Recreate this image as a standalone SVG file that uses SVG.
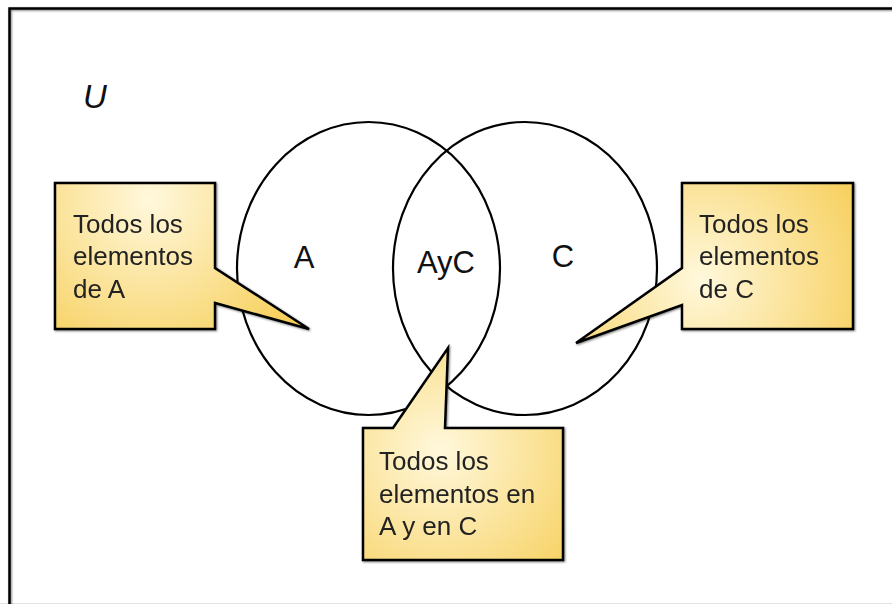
<svg xmlns="http://www.w3.org/2000/svg" width="892" height="604" viewBox="0 0 892 604">
<defs>
<radialGradient id="gL" gradientUnits="userSpaceOnUse" cx="150" cy="200" r="190">
<stop offset="0" stop-color="#fff8dc"/><stop offset="1" stop-color="#f6cd55"/>
</radialGradient>
<radialGradient id="gR" gradientUnits="userSpaceOnUse" cx="700" cy="280" r="190">
<stop offset="0" stop-color="#fff8dc"/><stop offset="1" stop-color="#f6cd55"/>
</radialGradient>
<radialGradient id="gB" gradientUnits="userSpaceOnUse" cx="440" cy="450" r="190">
<stop offset="0" stop-color="#fff8dc"/><stop offset="1" stop-color="#f6cd55"/>
</radialGradient>
<filter id="sh" x="-10%" y="-10%" width="120%" height="120%">
<feGaussianBlur in="SourceAlpha" stdDeviation="1.2"/>
<feOffset dx="0.5" dy="0.5"/>
<feComponentTransfer><feFuncA type="linear" slope="0.5"/></feComponentTransfer>
<feMerge><feMergeNode/><feMergeNode in="SourceGraphic"/></feMerge>
</filter>
</defs>
<style>
.set{fill:none;stroke:#000;stroke-width:2.2}
.call{stroke:#000;stroke-width:2.5;stroke-linejoin:miter}
.lbl{font-family:"Liberation Sans",Arial,sans-serif;font-size:31px;fill:#111}
.ct{font-family:"Liberation Sans",Arial,sans-serif;font-size:26px;fill:#222}
</style>
<rect width="892" height="604" fill="#fff"/>
<g id="frame">
<line x1="0" y1="603.5" x2="892" y2="603.5" stroke="#e2e2e2" stroke-width="1"/>
<rect x="9.5" y="8.5" width="900" height="620" fill="none" stroke="#000" stroke-width="2.5" filter="url(#sh)"/>
<text x="83" y="108" font-family="Liberation Sans, Arial, sans-serif" font-size="33" font-style="italic" fill="#111">U</text>
</g>
<g id="setA">
<ellipse class="set" cx="368.5" cy="268.5" rx="131.5" ry="146.5"/>
<text class="lbl" x="304" y="268" text-anchor="middle">A</text>
</g>
<g id="setC">
<ellipse class="set" cx="525" cy="268.5" rx="132" ry="146.5"/>
<text class="lbl" x="563" y="267" text-anchor="middle">C</text>
</g>
<g id="inter">
<text class="lbl" x="446" y="273" text-anchor="middle" font-size="32">AyC</text>
</g>
<g id="connectors"></g>
<g id="calloutA" filter="url(#sh)">
<path class="call" fill="url(#gL)" d="M55,183 H215 V268 L309,329 L215,303 V329 H55 Z"/>
<text class="ct" x="73" y="233">Todos los</text>
<text class="ct" x="73" y="265">elementos</text>
<text class="ct" x="73" y="298">de A</text>
</g>
<g id="calloutC" filter="url(#sh)">
<path class="call" fill="url(#gR)" d="M682,183 H853 V329 H682 V305 L576,343 L682,268 Z"/>
<text class="ct" x="699" y="233">Todos los</text>
<text class="ct" x="699" y="265">elementos</text>
<text class="ct" x="699" y="298">de C</text>
</g>
<g id="calloutB" filter="url(#sh)">
<path class="call" fill="url(#gB)" d="M363,428 H393 L448,348 L445,428 H563 V560 H363 Z"/>
<text class="ct" x="379" y="470">Todos los</text>
<text class="ct" x="379" y="503">elementos en</text>
<text class="ct" x="379" y="535">A y en C</text>
</g>
</svg>
